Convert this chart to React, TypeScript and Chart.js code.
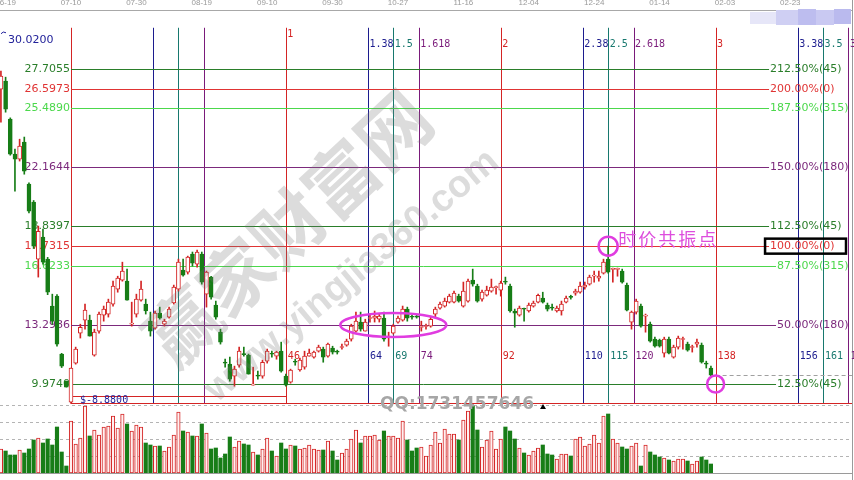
import React, { useEffect, useRef } from 'react';
import { Chart, registerables } from 'chart.js';

Chart.register(...registerables);

// ---------------- data ----------------
const firstBar = -15; // bar index of first candle (bar 0 = the 8.88 low)

const opens = [
  26.57, 27.02, 24.88, 22.91, 22.63, 23.59, 21.22, 20.21, 17.0, 18.24, 17.0, 14.36, 14.92, 11.66, 10.14,
  8.95, 11.15, 12.84, 13.57, 13.57, 11.6, 12.95, 13.85, 13.91, 14.47,
  15.31, 15.82, 15.76, 13.34, 13.91, 14.69, 14.47, 13.51, 13.12, 13.96,
  13.34, 13.74, 14.53, 15.31, 16.38, 16.27, 17.28, 16.72, 17.28, 15.03,
  15.99, 14.41, 12.89, 11.17, 11.09, 10.42, 11.03, 11.68, 11.6, 9.91,
  10.45, 10.42, 11.26, 11.68, 11.54, 11.82, 10.42, 10.08, 11.24, 10.76,
  10.92, 11.54, 11.49, 11.82, 11.94, 11.54, 11.99, 11.79, 12.03, 12.16,
  12.5, 12.95, 13.46, 12.95, 13.66, 13.68, 13.62, 13.68, 12.59, 12.84,
  13.46, 13.57, 14.19, 13.75, 13.76, 13.16, 13.21, 13.23, 13.91, 14.24,
  14.36, 14.58, 14.58, 14.92, 14.36, 14.64, 15.82, 15.48, 14.75, 14.97,
  15.2, 15.4, 15.26, 15.72, 15.48, 14.08, 13.85, 14.2, 14.08, 14.36,
  14.58, 14.81, 14.41, 14.3, 14.08, 14.08, 14.58, 14.87, 15.09, 15.14,
  15.43, 15.59, 16.04, 15.93, 16.21, 17.0, 16.42, 16.42, 16.33, 15.54,
  13.46, 14.02, 14.36, 13.79, 13.34, 12.5, 12.44, 11.71, 12.5, 11.49,
  12.05, 12.48, 12.22, 12.03, 12.22, 12.16, 11.11, 10.87,
];
const highs = [
  27.58, 27.24, 24.95, 23.19, 23.75, 23.87, 21.3, 20.3, 18.86, 18.69, 17.1, 15.03, 15.0, 11.7, 10.14,
  10.87, 12.05, 13.34, 14.47, 13.85, 13.06, 14.02, 14.36, 14.75, 15.76,
  16.04, 16.83, 16.44, 14.58, 15.03, 15.76, 14.75, 14.02, 14.08, 14.3,
  13.62, 14.3, 15.54, 17.0, 17.0, 17.17, 17.4, 17.51, 17.4, 16.33,
  16.04, 14.64, 13.06, 11.37, 11.49, 10.98, 12.05, 12.05, 11.66, 10.92,
  10.7, 11.32, 11.94, 11.82, 11.82, 12.33, 10.53, 10.81, 11.37, 11.43,
  11.82, 11.94, 11.82, 12.16, 12.05, 12.28, 12.1, 11.88, 12.22, 12.5,
  13.34, 14.02, 14.02, 13.62, 13.91, 14.08, 13.91, 14.02, 12.89, 13.34,
  13.79, 14.36, 14.3, 13.85, 13.85, 13.51, 13.34, 13.74, 14.3, 14.58,
  14.81, 15.03, 15.2, 15.03, 15.71, 15.88, 16.44, 15.59, 15.26, 15.48,
  15.88, 15.48, 15.76, 15.99, 15.59, 14.19, 14.36, 14.24, 14.53, 14.64,
  15.03, 15.14, 14.53, 14.47, 14.36, 14.64, 14.92, 14.97, 15.31, 15.71,
  15.71, 16.1, 16.33, 16.33, 17.0, 17.73, 16.5, 16.5, 16.44, 15.65,
  14.08, 14.75, 14.47, 13.91, 13.46, 12.61, 12.5, 12.61, 12.61, 12.16,
  12.67, 12.61, 12.33, 12.16, 12.5, 12.28, 11.26, 10.98,
];
const lows = [
  24.71, 25.27, 22.85, 20.83, 22.52, 21.78, 19.6, 17.6, 15.99, 16.72, 15.0, 13.34, 12.1, 10.9, 9.8,
  8.88, 11.09, 12.56, 13.06, 12.67, 11.54, 12.84, 13.51, 13.74, 14.36,
  15.14, 15.76, 14.69, 13.23, 13.74, 14.64, 13.91, 12.67, 13.06, 13.62,
  13.23, 13.68, 14.47, 15.2, 16.04, 16.16, 16.61, 16.55, 15.59, 14.3,
  14.75, 13.62, 12.22, 10.92, 10.13, 9.85, 10.92, 11.54, 10.53, 9.91,
  10.25, 10.3, 11.15, 11.49, 11.37, 10.64, 9.85, 10.02, 11.03, 10.7,
  10.81, 11.54, 11.43, 11.77, 11.2, 11.49, 11.66, 11.66, 11.94, 12.1,
  12.39, 12.89, 12.95, 12.95, 13.46, 13.46, 13.46, 12.39, 12.1, 12.78,
  13.4, 13.51, 13.51, 13.62, 13.68, 12.95, 13.06, 13.17, 13.74, 14.19,
  14.3, 14.53, 14.53, 14.58, 14.3, 14.58, 15.48, 14.58, 14.64, 14.92,
  15.14, 15.03, 14.92, 15.59, 14.02, 13.17, 13.79, 13.51, 14.02, 14.3,
  14.53, 14.53, 14.08, 14.13, 14.02, 13.85, 14.53, 14.75, 14.97, 15.09,
  15.31, 15.54, 15.71, 15.76, 16.16, 16.21, 15.71, 16.04, 15.65, 14.08,
  13.06, 13.91, 13.17, 12.89, 12.33, 12.05, 12.05, 11.49, 11.66, 11.43,
  11.94, 11.94, 11.82, 11.77, 12.05, 11.15, 10.87, 10.42,
];
const closes = [
  27.3, 25.44, 22.91, 22.63, 23.36, 21.95, 19.7, 17.73, 18.57, 16.83, 15.14, 13.51, 12.22, 10.98, 9.8,
  10.87, 11.94, 13.17, 14.13, 12.67, 12.89, 13.91, 14.19, 14.58, 15.48,
  15.93, 16.33, 14.69, 13.38, 14.75, 15.31, 14.08, 12.95, 13.96, 13.68,
  13.51, 14.19, 15.43, 16.83, 16.1, 17.11, 16.78, 17.4, 15.71, 16.27,
  14.86, 13.74, 12.33, 11.15, 10.25, 10.81, 11.82, 11.63, 10.53, 9.97,
  10.42, 11.2, 11.82, 11.65, 11.77, 10.7, 9.91, 10.76, 11.2, 11.32,
  11.54, 11.71, 11.77, 12.05, 11.49, 12.22, 11.77, 11.77, 12.05, 12.39,
  13.23, 13.51, 13.06, 13.46, 13.68, 13.79, 13.79, 12.5, 12.61, 13.23,
  13.68, 14.19, 13.68, 13.73, 13.74, 13.18, 13.23, 13.62, 14.19, 14.47,
  14.64, 14.92, 15.09, 14.64, 15.2, 15.76, 15.59, 14.64, 15.14, 15.26,
  15.43, 15.43, 15.65, 15.7, 14.08, 13.96, 14.24, 14.18, 14.41, 14.53,
  14.97, 14.58, 14.19, 14.24, 14.24, 14.47, 14.81, 14.85, 15.2, 15.48,
  15.54, 15.99, 16.1, 16.05, 16.83, 16.27, 16.44, 16.45, 15.71, 14.13,
  14.02, 14.64, 13.23, 13.81, 12.39, 12.1, 12.1, 12.5, 11.71, 12.05,
  12.56, 12.5, 11.88, 12.05, 12.33, 11.2, 11.09, 10.47,
];
const volumes = [
  24, 22, 18, 18, 23, 20, 24, 33, 35, 30, 34, 28, 46, 21, 7,
  52, 29, 35, 67, 37, 43, 38, 46, 47, 57,
  45, 59, 49, 42, 48, 46, 30, 28, 27, 27,
  22, 26, 38, 61, 42, 41, 37, 37, 49, 40,
  24, 25, 15, 19, 36, 26, 32, 29, 28, 21,
  18, 24, 35, 22, 17, 30, 24, 28, 27, 24,
  25, 28, 24, 23, 23, 32, 22, 13, 20, 24,
  34, 43, 30, 37, 37, 38, 33, 42, 37, 37,
  35, 52, 33, 22, 25, 26, 17, 28, 41, 30,
  44, 39, 39, 33, 53, 62, 67, 43, 26, 33,
  42, 24, 34, 46, 42, 34, 25, 20, 18, 22,
  25, 28, 19, 18, 14, 19, 19, 17, 34, 36,
  27, 29, 38, 30, 57, 59, 34, 30, 26, 24,
  27, 30, 7, 28, 21, 18, 16, 15, 13, 12,
  14, 14, 12, 9, 12, 16, 13, 9,
];

// top date axis
const dateLabels = ['06-19', '07-10', '07-30', '08-19', '09-10', '09-30', '10-27', '11-16', '12-04', '12-24', '01-14', '02-03', '02-23'];
const dateBars = [-14, 0, 14, 28, 42, 56, 70, 84, 98, 112, 126, 140, 154];

// Fibonacci price levels
const levelPrices = [27.7055, 26.5973, 25.489, 22.1644, 18.8397, 17.7315, 16.6233, 13.2986, 9.974];
const levelPcts = [212.5, 200, 187.5, 150, 112.5, 100, 87.5, 50, 12.5];
const levelAngles = [45, 0, 315, 180, 45, 0, 315, 180, 45];
const lowPrice = 8.88;
const highPrice = 30.02;

// Fibonacci time zones (base span = 46 bars from the low)
const baseSpan = 46;
const timeRatios = [0.382, 0.5, 0.618, 1, 1.382, 1.5, 1.618, 2, 2.382, 2.5, 2.618, 3, 3.382, 3.5, 3.618];
const timeTopLabels = ['', '', '', '1', '1.38', '1.5', '1.618', '2', '2.38', '2.5', '2.618', '3', '3.38', '3.5', '3.618'];
const timeBarLabels = ['', '', '', '46', '64', '69', '74', '92', '110', '115', '120', '138', '156', '161', '166'];

const volGrid = [17, 34, 51, 68];

// axis ranges
const xMin = -15.2;
const xMax = 167.2;
const priceMin = 4.966;
const priceMax = 31.02;
const volMax = 463;

// ---------------- styles ----------------
const RED = '#d42424';
const GREEN = '#177d17';
const NAVY = '#1c1c8e';
const TEAL = '#17786e';
const PURPLE = '#7a1a7a';
const MAGENTA = '#e03ce0';

const levelColor = (a: number) =>
  a === 45 ? '#2a7e2a' : a === 0 ? '#e03434' : a === 315 ? '#4cd84c' : '#7c2a7c';
const timeColor = (r: number) => {
  const f = Math.round((r % 1) * 1000);
  return f === 0 ? RED : f === 382 ? NAVY : f === 500 ? TEAL : PURPLE;
};
const crisp = (v: number) => Math.round(v) + 0.5;

function hline(ctx: any, x1: number, x2: number, y: number) {
  ctx.beginPath();
  ctx.moveTo(x1, y);
  ctx.lineTo(x2, y);
  ctx.stroke();
}
function vline(ctx: any, x: number, y1: number, y2: number) {
  ctx.beginPath();
  ctx.moveTo(x, y1);
  ctx.lineTo(x, y2);
  ctx.stroke();
}

const overlay = {
  id: 'overlay',
  beforeDatasetsDraw(chart: any) {
    const { ctx, chartArea: ca, scales } = chart;
    const X = (b: number) => scales.x.getPixelForValue(b);
    const Y = (p: number) => scales.y.getPixelForValue(p);
    const yv = scales.yv;
    ctx.save();
    ctx.lineWidth = 1;

    // top axis line
    ctx.strokeStyle = '#a8a8a8';
    hline(ctx, 0, ca.right, crisp(ca.top));

    // volume dashed grid
    ctx.setLineDash([3, 3]);
    ctx.strokeStyle = '#b4b4b4';
    volGrid.forEach((v) => hline(ctx, 0, ca.right, crisp(yv.getPixelForValue(v))));
    ctx.setLineDash([]);

    // bottom + right borders
    ctx.strokeStyle = '#9a9a9a';
    hline(ctx, 0, ca.right, crisp(ca.bottom));
    vline(ctx, crisp(ca.right), 0, chart.height);

    const x0 = X(0);
    const yTop = Y(highPrice);
    const yBot = Y(lowPrice);

    // vertical time lines
    ctx.strokeStyle = RED;
    vline(ctx, crisp(x0), yTop, yBot);
    timeRatios.forEach((r) => {
      ctx.strokeStyle = timeColor(r);
      vline(ctx, crisp(X(r * baseSpan)), yTop, yBot);
    });

    // horizontal levels
    ctx.font = '11px "DejaVu Sans"';
    ctx.textBaseline = 'middle';
    const pctRight = ca.right - 33;
    levelPrices.forEach((p, i) => {
      const yy = crisp(Y(p));
      const col = levelColor(levelAngles[i]);
      const pct = levelPcts[i].toFixed(2) + '%';
      const w = ctx.measureText(pct).width;
      ctx.strokeStyle = col;
      hline(ctx, x0, pctRight - w - 1, yy);
      ctx.fillStyle = col;
      ctx.textAlign = 'right';
      ctx.fillText(pct, pctRight, yy);
      ctx.textAlign = 'left';
      ctx.fillText('(' + levelAngles[i] + ')', pctRight, yy);
      ctx.textAlign = 'right';
      ctx.fillText(p.toFixed(4), x0 - 1, yy);
    });

    // 0% line and low box
    const yLow = crisp(yBot);
    ctx.strokeStyle = RED;
    hline(ctx, x0, ca.right, yLow);
    const boxTop = crisp(Y(lowPrice + 0.42));
    ctx.strokeRect(crisp(x0), boxTop, Math.round(X(baseSpan) - x0), yLow - boxTop);
    ctx.fillStyle = '#22229a';
    ctx.textAlign = 'left';
    ctx.font = '10px "DejaVu Sans Mono"';
    ctx.fillText('$-' + lowPrice.toFixed(4), x0 + 9, (boxTop + yLow) / 2);

    // high label
    ctx.font = '11px "DejaVu Sans"';
    ctx.fillStyle = '#22229a';
    ctx.fillText(highPrice.toFixed(4), 8, Y(highPrice) + 12);
    ctx.strokeStyle = '#22229a';
    ctx.beginPath();
    ctx.moveTo(1, Y(highPrice) + 6);
    ctx.quadraticCurveTo(3, Y(highPrice) + 3, 6, Y(highPrice) + 5);
    ctx.stroke();

    // time labels
    ctx.font = '10px "DejaVu Sans Mono"';
    ctx.textAlign = 'left';
    timeRatios.forEach((r, i) => {
      const xx = X(r * baseSpan);
      ctx.fillStyle = timeColor(r);
      if (timeTopLabels[i]) ctx.fillText(timeTopLabels[i], xx + 1.5, ca.top + (r === 1 ? 24 : 34));
      if (timeBarLabels[i]) ctx.fillText(timeBarLabels[i], xx + 2, Y(11.55));
    });

    // last price dashed line
    const last = closes[closes.length - 1];
    ctx.strokeStyle = '#a0a0a0';
    ctx.setLineDash([4, 3]);
    hline(ctx, X(138), ca.right, crisp(Y(last)));
    ctx.setLineDash([]);
    ctx.restore();
  },
  afterDatasetsDraw(chart: any) {
    const { ctx, chartArea: ca, scales } = chart;
    const X = (b: number) => scales.x.getPixelForValue(b);
    const Y = (p: number) => scales.y.getPixelForValue(p);
    ctx.save();

    // annotations
    ctx.strokeStyle = MAGENTA;
    ctx.lineWidth = 2.5;
    ctx.beginPath();
    ctx.ellipse(X(69), Y(levelPrices[7]), 53, 12, 0, 0, Math.PI * 2);
    ctx.stroke();
    ctx.beginPath();
    ctx.arc(X(115), Y(levelPrices[5]), 9.5, 0, Math.PI * 2);
    ctx.stroke();
    ctx.beginPath();
    ctx.arc(X(138), Y(levelPrices[8]), 8.5, 0, Math.PI * 2);
    ctx.stroke();

    ctx.fillStyle = '#dd4edd';
    ctx.font = '18px "Noto Sans CJK SC"';
    ctx.textAlign = 'left';
    ctx.textBaseline = 'middle';
    try { (ctx as any).letterSpacing = '2px'; } catch (e) {}
    ctx.fillText('时价共振点', X(115) + 10, Y(levelPrices[5]) - 7);
    try { (ctx as any).letterSpacing = '0px'; } catch (e) {}

    // black box around 100% label
    ctx.font = '11px "DejaVu Sans"';
    const pctRight = ca.right - 33;
    const w = ctx.measureText('100.00%').width;
    const yc = Y(levelPrices[5]);
    ctx.strokeStyle = '#000';
    ctx.lineWidth = 2.5;
    ctx.strokeRect(pctRight - w - 5, yc - 7.5, ca.right - 6 - (pctRight - w - 5), 15);

    // watermark
    ctx.fillStyle = 'rgba(115,115,115,0.25)';
    ctx.textAlign = 'center';
    ctx.textBaseline = 'middle';
    ctx.save();
    ctx.translate(288, 228);
    ctx.rotate((-43 * Math.PI) / 180);
    ctx.font = 'bold 72px "Noto Sans CJK SC"';
    ctx.fillText('赢家财富网', 0, 0);
    ctx.restore();
    ctx.save();
    ctx.translate(352, 276);
    ctx.rotate((-40 * Math.PI) / 180);
    ctx.font = 'bold 38px "Liberation Sans"';
    ctx.fillText('www.yingjia360.com', 0, 0);
    ctx.restore();

    // QQ text
    ctx.fillStyle = '#a6a6a6';
    ctx.font = 'bold 17px "DejaVu Sans"';
    ctx.textAlign = 'left';
    ctx.fillText('QQ:1731457646', 380, 405);
    ctx.fillStyle = '#000';
    ctx.beginPath();
    ctx.moveTo(540, 409);
    ctx.lineTo(546, 409);
    ctx.lineTo(543, 404);
    ctx.closePath();
    ctx.fill();

    // blurred logo blocks (top right)
    const blocks = [
      [750, 12, 26, 12, '#e6e6f8'],
      [776, 10, 22, 15, '#cfcff3'],
      [798, 9, 18, 16, '#bdbdef'],
      [816, 10, 18, 15, '#c9c9f2'],
      [834, 9, 17, 15, '#babaee'],
    ];
    blocks.forEach((b: any) => {
      ctx.fillStyle = b[4];
      ctx.fillRect(b[0], b[1], b[2], b[3]);
    });
    ctx.restore();
  },
};

export default function App() {
  const ref = useRef<HTMLCanvasElement>(null);
  useEffect(() => {
    const canvas = ref.current;
    if (!canvas) return;
    const bars = opens.map((_, i) => firstBar + i);
    const up = opens.map((o, i) => closes[i] >= o);
    const chart = new Chart(canvas, {
      type: 'bar',
      data: {
        datasets: [
          {
            label: 'body',
            data: bars.map((b, i) => ({ x: b, y: [opens[i], closes[i]] })) as any,
            backgroundColor: up.map((u) => (u ? '#ffffff' : GREEN)),
            borderColor: up.map((u) => (u ? RED : GREEN)),
            borderWidth: 1,
            borderSkipped: false,
            barThickness: 4,
            minBarLength: 1,
            grouped: false,
            order: 0,
            yAxisID: 'y',
          },
          {
            label: 'wick',
            data: bars.map((b, i) => ({ x: b, y: [lows[i], highs[i]] })) as any,
            backgroundColor: up.map((u) => (u ? RED : GREEN)),
            borderWidth: 0,
            barThickness: 1,
            grouped: false,
            order: 1,
            yAxisID: 'y',
          },
          {
            label: 'volume',
            data: bars.map((b, i) => ({ x: b, y: volumes[i] })) as any,
            backgroundColor: up.map((u) => (u ? '#fff0f0' : GREEN)),
            borderColor: up.map((u) => (u ? RED : GREEN)),
            borderWidth: up.map((u) => (u ? 1 : 0)),
            borderSkipped: false,
            barThickness: 3.5,
            grouped: false,
            order: 2,
            yAxisID: 'yv',
          },
        ],
      },
      options: {
        animation: false,
        responsive: true,
        maintainAspectRatio: false,
        events: [],
        layout: { autoPadding: false, padding: { left: 0, right: 2, top: 0, bottom: 7 } },
        plugins: { legend: { display: false }, tooltip: { enabled: false } },
        scales: {
          x: {
            type: 'linear',
            position: 'top',
            min: xMin,
            max: xMax,
            offset: false,
            grid: { display: false, drawTicks: false },
            border: { display: false },
            afterBuildTicks: (s: any) => {
              s.ticks = dateBars.map((v) => ({ value: v }));
            },
            afterFit: (s: any) => {
              s.height = 10;
              s.paddingLeft = 0;
              s.paddingRight = 0;
            },
            ticks: {
              autoSkip: false,
              maxRotation: 0,
              padding: 2,
              color: '#9a9a9a',
              font: { family: 'Liberation Sans', size: 8 },
              callback: (v: any) => {
                const k = dateBars.indexOf(v);
                return k >= 0 ? dateLabels[k] : '';
              },
            },
          },
          y: { type: 'linear', display: false, min: priceMin, max: priceMax },
          yv: { type: 'linear', display: false, min: 0, max: volMax },
        },
      } as any,
      plugins: [overlay],
    });
    return () => chart.destroy();
  }, []);
  return (
    <div style={{ position: 'absolute', left: 0, top: 0, width: 854, height: 480, background: '#fff' }}>
      <canvas ref={ref} />
    </div>
  );
}
